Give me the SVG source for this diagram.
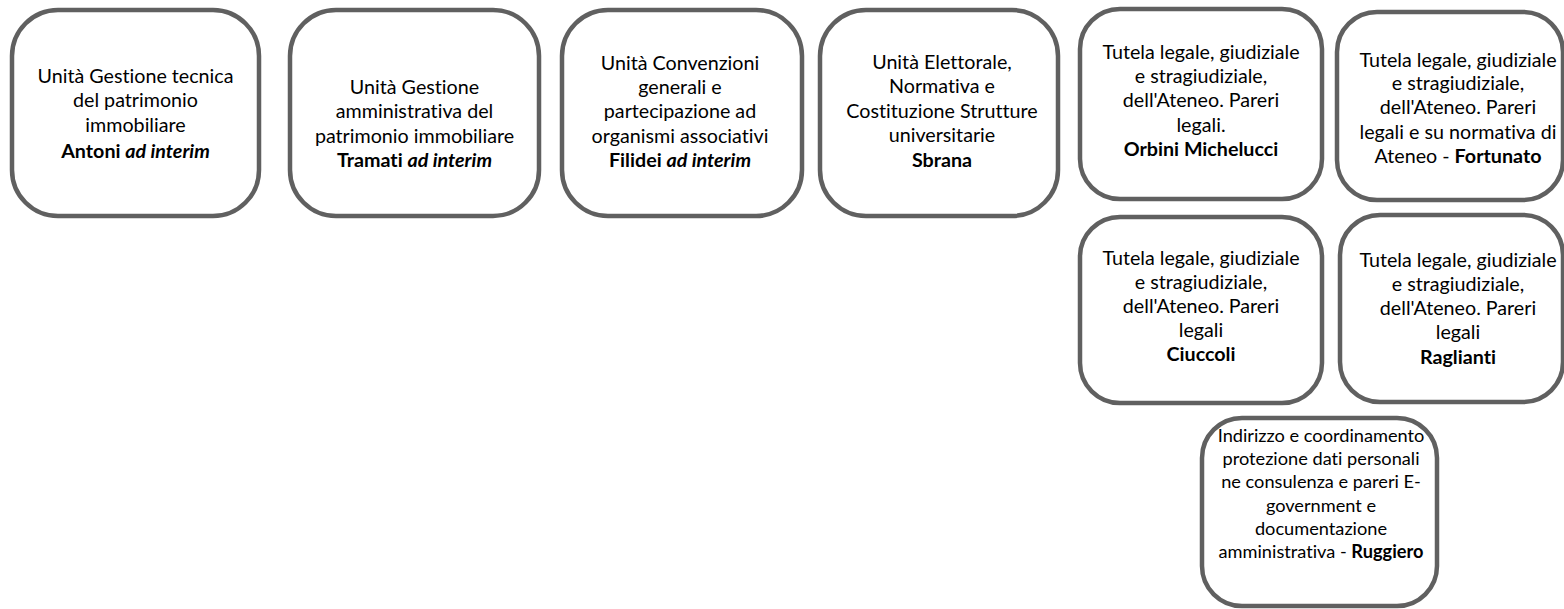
<svg xmlns="http://www.w3.org/2000/svg" width="1564" height="609" viewBox="0 0 1564 609">
<style>
.box{fill:#fff;stroke:#606060;stroke-width:4.5}
.t{font-family:Lato,"Open Sans","Liberation Sans",sans-serif;font-size:19.7px;fill:#000;text-anchor:middle;font-variant-ligatures:none}
.s{font-size:18.2px}
.b{font-weight:bold}
.i{font-style:italic}
</style>
<rect width="1564" height="609" fill="#fff"/>
<g id="connectors"/>
<g id="n1">
<rect class="box" x="12" y="10" width="247" height="206" rx="46"/>
<text class="t"><tspan x="135.5" y="83">Unità Gestione tecnica</tspan><tspan x="135.5" y="107">del patrimonio</tspan><tspan x="135.5" y="132">immobiliare</tspan><tspan x="135.5" y="158" class="b">Antoni <tspan class="i">ad interim</tspan></tspan></text>
</g>
<g id="n2">
<rect class="box" x="290" y="10" width="249" height="206" rx="46"/>
<text class="t"><tspan x="414.5" y="94">Unità Gestione</tspan><tspan x="414.5" y="118">amministrativa del</tspan><tspan x="414.5" y="143">patrimonio immobiliare</tspan><tspan x="414.5" y="167" class="b">Tramati <tspan class="i">ad interim</tspan></tspan></text>
</g>
<g id="n3">
<rect class="box" x="562" y="10" width="240" height="206" rx="46"/>
<text class="t"><tspan x="680" y="70">Unità Convenzioni</tspan><tspan x="680" y="94">generali e</tspan><tspan x="680" y="118">partecipazione ad</tspan><tspan x="680" y="143">organismi associativi</tspan><tspan x="680" y="167" class="b">Filidei <tspan class="i">ad interim</tspan></tspan></text>
</g>
<g id="n4">
<rect class="box" x="820" y="10" width="238" height="206" rx="46"/>
<text class="t"><tspan x="942" y="69">Unità Elettorale,</tspan><tspan x="942" y="93">Normativa e</tspan><tspan x="942" y="118">Costituzione Strutture</tspan><tspan x="942" y="142">universitarie</tspan><tspan x="942" y="167" class="b">Sbrana</tspan></text>
</g>
<g id="n5">
<rect class="box" x="1080" y="9" width="242" height="190" rx="40"/>
<text class="t"><tspan x="1201" y="59">Tutela legale, giudiziale</tspan><tspan x="1201" y="83">e stragiudiziale,</tspan><tspan x="1201" y="107">dell'Ateneo. Pareri</tspan><tspan x="1201" y="132">legali.</tspan><tspan x="1201" y="156" class="b">Orbini Michelucci</tspan></text>
</g>
<g id="n6">
<rect class="box" x="1337" y="12" width="226" height="188" rx="40"/>
<text class="t"><tspan x="1458" y="67">Tutela legale, giudiziale</tspan><tspan x="1458" y="90">e stragiudiziale,</tspan><tspan x="1458" y="114">dell'Ateneo. Pareri</tspan><tspan x="1458" y="139">legali e su normativa di</tspan><tspan x="1458" y="163">Ateneo - <tspan class="b">Fortunato</tspan></tspan></text>
</g>
<g id="n7">
<rect class="box" x="1080" y="217" width="242" height="186" rx="40"/>
<text class="t"><tspan x="1201" y="265">Tutela legale, giudiziale</tspan><tspan x="1201" y="289">e stragiudiziale,</tspan><tspan x="1201" y="313">dell'Ateneo. Pareri</tspan><tspan x="1201" y="337">legali</tspan><tspan x="1201" y="361" class="b">Ciuccoli</tspan></text>
</g>
<g id="n8">
<rect class="box" x="1340" y="215" width="223" height="187" rx="40"/>
<text class="t"><tspan x="1458" y="267">Tutela legale, giudiziale</tspan><tspan x="1458" y="291">e stragiudiziale,</tspan><tspan x="1458" y="315">dell'Ateneo. Pareri</tspan><tspan x="1458" y="339">legali</tspan><tspan x="1458" y="364" class="b">Raglianti</tspan></text>
</g>
<g id="n9">
<rect class="box" x="1202" y="418" width="235" height="188" rx="40"/>
<text class="t s"><tspan x="1321" y="442">Indirizzo e coordinamento</tspan><tspan x="1321" y="465">protezione dati personali</tspan><tspan x="1321" y="488">ne consulenza e pareri E-</tspan><tspan x="1321" y="512">government e</tspan><tspan x="1321" y="535">documentazione</tspan><tspan x="1321" y="558">amministrativa  - <tspan class="b">Ruggiero</tspan></tspan></text>
</g>
</svg>
